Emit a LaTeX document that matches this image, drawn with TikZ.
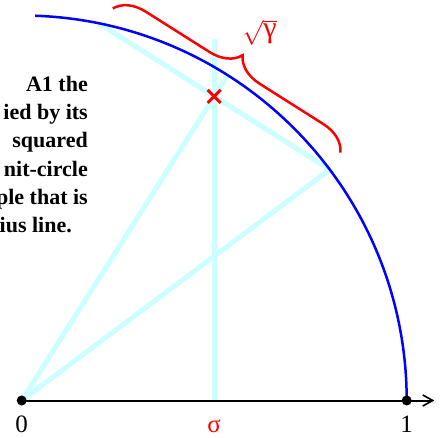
\documentclass[tikz,border=0pt]{standalone}
\usepackage{fontspec}
\setmainfont{Liberation Serif}
\usetikzlibrary{arrows.meta,decorations.pathreplacing,shapes.misc}
\definecolor{lcyan}{RGB}{204,255,255}
\begin{document}
\begin{tikzpicture}[x=385pt,y=385pt,
  guide/.style={draw=lcyan,line width=5pt},
  dotnode/.style={circle,fill=black,minimum size=10pt,inner sep=0pt},
  axislbl/.style={anchor=base,inner sep=0pt,font=\fontsize{25}{30}\selectfont},
  para/.style={anchor=base east,inner sep=0pt,font=\fontsize{22}{28}\selectfont\bfseries}
]
\useasboundingbox (-21.7pt,-36.5pt) rectangle (420.3pt,400.5pt);

\coordinate (o) at (0,0);
\coordinate (e1) at (1,0);
\coordinate (axend) at (1.072,0);
\coordinate (ca) at (0.2,0.9798);
\coordinate (cb) at (0.8,0.6);
\coordinate (cm) at (57.66:1);
\coordinate (sb) at (0.5,0);
\coordinate (st) at (0.5,0.94);
\coordinate (xm) at (0.5,0.79);
\coordinate (bs) at (0.2366,1.0181);
\coordinate (be) at (0.8278,0.6439);

% light cyan construction lines
\draw[guide] (o) -- (cb);
\draw[guide] (o) -- (cm);
\draw[guide] (ca) -- (cb);
\draw[guide] (sb) -- (st);

% unit circle arc
\draw[blue,line width=2.5pt] (e1) arc[start angle=0,end angle=88,radius=1];

% axis
\draw[line width=2pt,-{Straight Barb[length=10pt,width=11pt,line width=1.6pt]}] (o) -- (axend);
\node[dotnode] (d0) at (o) {};
\node[dotnode] (d1) at (e1) {};

% brace
\draw[red,line width=2.5pt,decorate,decoration={brace,amplitude=30pt}] (bs) -- (be);
\node[text=red,inner sep=0pt,font=\fontsize{30}{34}\selectfont] (lg) at (238pt,368pt) {$\sqrt{\mbox{γ}}$};

% cross mark
\node[cross out,draw=red,line width=3pt,minimum size=10pt,inner sep=0pt] (cross) at (xm) {};

% axis labels
\node[axislbl] (l0) at (0,-32pt) {0};
\node[axislbl] (l1) at (1,-32pt) {1};
\node[axislbl,text=red] (ls) at (0.5,-32pt) {σ};

% clipped paragraph
\node[para] (t1) at (66.3pt,308.5pt) {A1 the};
\node[para] (t2) at (66.3pt,280.5pt) {ied by its};
\node[para] (t3) at (66.3pt,252.5pt) {squared};
\node[para] (t4) at (66.3pt,224.5pt) {nit-circle};
\node[para] (t5) at (66.3pt,196.5pt) {ple that is};
\node[para] (t6) at (50.3pt,168.5pt) {ius line.};
\end{tikzpicture}
\end{document}
